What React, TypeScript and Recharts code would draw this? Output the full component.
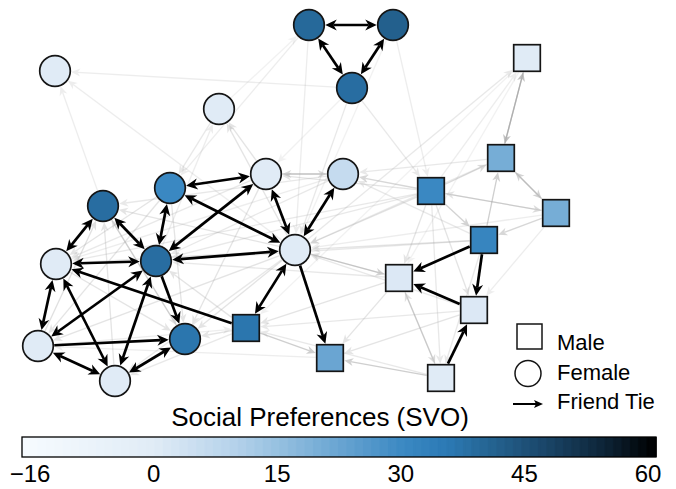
import React from 'react';
import { ScatterChart, Scatter, XAxis, YAxis, ReferenceLine, ComposedChart, BarChart, Bar, Cell } from 'recharts';

const FONT = '"Liberation Sans", Arial, Helvetica, sans-serif';

// node layout (layout units), sex and SVO score, node id = index + 1
const nodeX = [309, 393, 352, 55, 219, 266, 343, 170, 103, 56, 156, 295, 38, 115, 185, 246, 330, 527, 501, 431, 556, 484, 399, 474, 441];
const nodeY = [25, 25, 88, 71, 109, 174, 174, 188, 206, 264, 261, 250, 346, 381, 339, 328, 358, 58, 158, 191, 213, 240, 278, 310, 378];
const nodeSex = ['F', 'F', 'F', 'F', 'F', 'F', 'F', 'F', 'F', 'F', 'F', 'F', 'F', 'F', 'F', 'M', 'M', 'M', 'M', 'M', 'M', 'M', 'M', 'M', 'M'];
const nodeSvo = [39, 41, 38, 0, 0, 0, 6, 30, 38, 0, 38, 0, 0, 0, 36, 36, 22, 0, 20, 30, 20, 31, 1, 1, 0];

// friend ties: [from, to, mutual]
const friendTies = [
  [1, 2, 1], [1, 3, 1], [2, 3, 1], [8, 6, 1], [8, 11, 1], [11, 6, 1], [8, 12, 1], [6, 12, 1],
  [7, 12, 1], [11, 12, 1], [12, 16, 1], [12, 17, 0], [9, 10, 1], [9, 11, 1], [10, 11, 1], [16, 10, 0],
  [10, 13, 1], [10, 14, 1], [11, 13, 1], [11, 14, 1], [11, 15, 0], [13, 15, 0], [13, 14, 1], [14, 15, 1],
  [22, 23, 0], [22, 24, 0], [24, 23, 0], [25, 24, 0],
];

// other (weaker) ties: [from, to, opacity]
const otherTies = [
  [18, 19, 0.7], [19, 18, 0.7], [22, 19, 0.55], [21, 19, 0.5], [19, 21, 0.5], [21, 22, 0.45], [20, 22, 0.5],
  [20, 19, 0.4], [20, 21, 0.4], [16, 17, 0.55], [25, 17, 0.55], [23, 25, 0.4], [25, 23, 0.35], [12, 23, 0.5],
  [20, 7, 0.45], [7, 6, 0.45], [6, 7, 0.4],
  [20, 6, 0.3], [20, 12, 0.3], [20, 11, 0.25], [20, 10, 0.25], [20, 23, 0.3], [20, 24, 0.3], [20, 25, 0.25],
  [3, 20, 0.25], [12, 18, 0.25], [20, 18, 0.2], [24, 17, 0.3], [23, 17, 0.3], [22, 25, 0.25], [21, 24, 0.2],
  [12, 5, 0.3], [6, 5, 0.3], [11, 5, 0.2], [3, 12, 0.25], [1, 8, 0.2], [1, 12, 0.2], [2, 20, 0.2], [3, 4, 0.2],
  [9, 4, 0.2], [12, 4, 0.2], [13, 9, 0.35], [14, 9, 0.3], [9, 15, 0.35], [8, 10, 0.3], [8, 13, 0.3], [8, 15, 0.3],
  [6, 11, 0.3], [6, 10, 0.25], [6, 15, 0.3], [12, 9, 0.3], [12, 10, 0.3], [12, 13, 0.3], [12, 14, 0.25],
  [12, 15, 0.3], [7, 11, 0.25], [7, 10, 0.2], [7, 9, 0.25], [16, 15, 0.3], [16, 14, 0.25], [16, 11, 0.3],
  [23, 12, 0.3], [23, 11, 0.25], [23, 16, 0.3], [24, 12, 0.25], [24, 16, 0.25], [25, 16, 0.25], [17, 13, 0.2],
  [19, 12, 0.25], [19, 7, 0.25], [21, 12, 0.2], [22, 12, 0.3], [22, 11, 0.25], [5, 8, 0.25], [10, 15, 0.3],
  [15, 9, 0.3], [13, 16, 0.2], [22, 7, 0.25], [21, 20, 0.3], [2, 12, 0.15], [3, 6, 0.15], [18, 16, 0.15],
  [18, 23, 0.15], [5, 1, 0.15],
];

// colour scale
const svoDomain = [-16, 60];
const colorbarLabels = ['\u221216', '0', '15', '30', '45', '60'];
const paletteStops: [number, string][] = [
  [-16, '#f7fbff'], [0, '#e0ebf6'], [10, '#b3d1ea'], [15, '#95c0e0'], [22, '#6aa5d2'], [30, '#3a88c2'],
  [35, '#2c7ab5'], [40, '#256593'], [47, '#1a4568'], [54, '#0d2436'], [60, '#000000'],
];

const hex = (c: string) => [1, 3, 5].map((i) => parseInt(c.slice(i, i + 2), 16));
const svoColor = (v: number) => {
  for (let i = 1; i < paletteStops.length; i++) {
    const [v0, c0] = paletteStops[i - 1];
    const [v1, c1] = paletteStops[i];
    if (v <= v1) {
      const t = Math.max(0, (v - v0) / (v1 - v0));
      const a = hex(c0), b = hex(c1);
      return 'rgb(' + a.map((x, k) => Math.round(x + (b[k] - x) * t)).join(',') + ')';
    }
  }
  return '#000';
};

const CIRCLE_R = 15.3;
const SQ_HALF = 13.3;

const nodes = nodeX.map((x, i) => ({ id: i + 1, x, y: nodeY[i], sex: nodeSex[i], svo: nodeSvo[i] }));
const females = nodes.filter((n) => n.sex === 'F');
const males = nodes.filter((n) => n.sex === 'M');

const gap = (isSquare: boolean, ux: number, uy: number) =>
  isSquare ? (SQ_HALF + 1) / Math.max(Math.abs(ux), Math.abs(uy)) : CIRCLE_R + 1;

const head = (tx: number, ty: number, ux: number, uy: number, len: number, half: number, notch: number) => {
  const bx = tx - ux * len, by = ty - uy * len;
  const nx = tx - ux * notch, ny = ty - uy * notch;
  return `M${tx},${ty}L${bx - uy * half},${by + ux * half}L${nx},${ny}L${bx + uy * half},${by - ux * half}Z`;
};

const EdgeShape = (props: any) => {
  const { x1, y1, x2, y2, fromSq, toSq, both, color, opacity, width, len, half } = props;
  const dx = x2 - x1, dy = y2 - y1;
  const L = Math.hypot(dx, dy) || 1;
  const ux = dx / L, uy = dy / L;
  const sx = x1 + ux * gap(fromSq, ux, uy), sy = y1 + uy * gap(fromSq, ux, uy);
  const ex = x2 - ux * gap(toSq, ux, uy), ey = y2 - uy * gap(toSq, ux, uy);
  const notch = len * 0.7;
  return (
    <g opacity={opacity}>
      <line
        x1={both ? sx + ux * notch : sx}
        y1={both ? sy + uy * notch : sy}
        x2={ex - ux * notch}
        y2={ey - uy * notch}
        stroke={color}
        strokeWidth={width}
      />
      <path d={head(ex, ey, ux, uy, len, half, notch)} fill={color} />
      {both ? <path d={head(sx, sy, -ux, -uy, len, half, notch)} fill={color} /> : null}
    </g>
  );
};

const renderEdge = (from: number, to: number, both: boolean, color: string, opacity: number, width: number, len: number, half: number, key: string) => {
  const a = nodes[from - 1], b = nodes[to - 1];
  return (
    <ReferenceLine
      key={key}
      segment={[{ x: a.x, y: a.y }, { x: b.x, y: b.y }]}
      shape={(p: any) => (
        <EdgeShape {...p} fromSq={a.sex === 'M'} toSq={b.sex === 'M'} both={both}
          color={color} opacity={opacity} width={width} len={len} half={half} />
      )}
    />
  );
};

const CircleNode = (p: any) => (
  <circle cx={p.cx} cy={p.cy} r={CIRCLE_R} fill={svoColor(p.payload.svo)} stroke="#151515" strokeWidth={1.7} />
);
const SquareNode = (p: any) => (
  <rect x={p.cx - SQ_HALF} y={p.cy - SQ_HALF} width={SQ_HALF * 2} height={SQ_HALF * 2}
    fill={svoColor(p.payload.svo)} stroke="#151515" strokeWidth={1.7} />
);

// one colour bin per SVO unit across the legend bar
const colorBins: { v: number; one: number }[] = [];
for (let v = svoDomain[0]; v < svoDomain[1]; v++) colorBins.push({ v, one: 1 });

const NetworkChart = () => (
  <ScatterChart width={676} height={489} margin={{ top: 0, right: 0, bottom: 0, left: 0 }}>
    <XAxis type="number" dataKey="x" domain={[0, 676]} allowDataOverflow hide />
    <YAxis type="number" dataKey="y" domain={[0, 489]} allowDataOverflow reversed hide />
    {otherTies.map(([f, t, o], i) => renderEdge(f, t, false, '#a8a8a8', o, 1.3, 9, 4, 'g' + i))}
    {friendTies.map(([f, t, m], i) => renderEdge(f, t, m === 1, '#000000', 1, 2.7, 11.5, 5.5, 'f' + i))}
    <Scatter data={females} shape={CircleNode} isAnimationActive={false} />
    <Scatter data={males} shape={SquareNode} isAnimationActive={false} />
  </ScatterChart>
);

const ColorBar = () => (
  <BarChart width={676} height={20} data={colorBins} barCategoryGap={0}
    margin={{ top: 0, right: 20, bottom: 0, left: 22 }}>
    <XAxis dataKey="v" type="category" hide />
    <YAxis type="number" domain={[0, 1]} allowDataOverflow hide />
    <Bar dataKey="one" isAnimationActive={false}>
      {colorBins.map((b) => (
        <Cell key={b.v} fill={svoColor(b.v + 0.5)} stroke={svoColor(b.v + 0.5)} strokeWidth={2} />
      ))}
    </Bar>
  </BarChart>
);

const ColorBarLabels = () => (
  <ComposedChart
    width={676}
    height={32}
    data={colorbarLabels.map((label) => ({ label }))}
    margin={{ top: 0, right: 20, bottom: 0, left: 22 }}
  >
    <XAxis
      dataKey="label"
      type="category"
      scale="point"
      padding={{ left: 8, right: 8 }}
      axisLine={false}
      tickLine={false}
      interval={0}
      height={32}
      tick={{ fontSize: 24, fill: '#000', fontFamily: FONT }}
    />
    <YAxis hide />
  </ComposedChart>
);

export default function App() {
  return (
    <div style={{ position: 'absolute', left: 0, top: 0, width: 676, height: 489, background: '#fff', fontFamily: FONT }}>
      <NetworkChart />
      <div style={{ position: 'absolute', left: 0, top: 437 }}>
        <ColorBar />
      </div>
      <div style={{ position: 'absolute', left: 0, top: 457 }}>
        <ColorBarLabels />
      </div>
      <svg width={676} height={489} style={{ position: 'absolute', left: 0, top: 0, pointerEvents: 'none' }}>
        <rect x={22} y={437} width={634} height={20} fill="none" stroke="#000" strokeWidth={1.3} />
        <rect x={517} y={324} width={25} height={25} fill="#fff" stroke="#151515" strokeWidth={1.5} />
        <circle cx={528} cy={373.5} r={13} fill="#fff" stroke="#151515" strokeWidth={1.5} />
        <line x1={513} y1={404} x2={536} y2={404} stroke="#000" strokeWidth={2} />
        <path d="M543,404L534,400L536,404L534,408Z" fill="#000" />
        <text x={557} y={350} fontSize={22} fontFamily={FONT} fill="#000">Male</text>
        <text x={557} y={380} fontSize={22} fontFamily={FONT} fill="#000">Female</text>
        <text x={557} y={409} fontSize={22} fontFamily={FONT} fill="#000">Friend Tie</text>
        <text x={320} y={426} fontSize={26} fontFamily={FONT} fill="#000" textAnchor="middle">Social Preferences (SVO)</text>
      </svg>
    </div>
  );
}
